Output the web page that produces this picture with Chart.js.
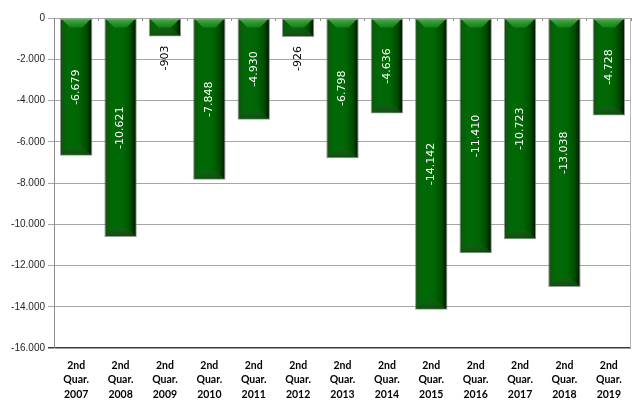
<!DOCTYPE html>
<html>
<head>
<meta charset="utf-8">
<script src="https://cdn.jsdelivr.net/npm/chart.js@4/dist/chart.umd.min.js"></script>
<style>
  html, body { margin: 0; padding: 0; background: #ffffff; }
  #wrap { width: 632px; height: 400px; }
</style>
</head>
<body>
<div id="wrap"><canvas id="c" width="632" height="400"></canvas></div>
<script>
// Quarterly results, second quarter of each year
const years = ['2007', '2008', '2009', '2010', '2011', '2012', '2013', '2014', '2015', '2016', '2017', '2018', '2019'];
const categoryLabels = years.map(y => ['2nd', 'Quar.', y]);
const values = [-6679, -10621, -903, -7848, -4930, -926, -6798, -4636, -14142, -11410, -10723, -13038, -4728];

// value axis range
const yMin = -16000;
const yMax = 0;
const yStep = 2000;

// labels for bars shorter than this go below the bar in black
const insideLimit = 2000;

const BAR_PCT = 0.73;

function fmt(v) {
  const s = Math.abs(Math.round(v)).toString().replace(/\B(?=(\d{3})+(?!\d))/g, '.');
  return (v < 0 ? '-' : '') + s;
}

// horizontal shading across each bar: lit left side, dark right side
function barFill(c) {
  const chart = c.chart;
  const xs = chart.scales.x;
  if (!chart.chartArea || !xs || c.dataIndex === undefined) return '#006400';
  const cx = xs.getPixelForValue(c.dataIndex);
  const step = xs.getPixelForValue(1) - xs.getPixelForValue(0);
  const w = step * BAR_PCT;
  const g = chart.ctx.createLinearGradient(cx - w / 2, 0, cx + w / 2, 0);
  g.addColorStop(0, '#124a12');
  g.addColorStop(0.08, '#0a5c0a');
  g.addColorStop(0.25, '#006a06');
  g.addColorStop(0.6, '#006604');
  g.addColorStop(0.82, '#004c00');
  g.addColorStop(0.94, '#002400');
  g.addColorStop(1, '#000800');
  return g;
}

// bevelled caps at both ends of each bar
const bevelPlugin = {
  id: 'bevel',
  afterDatasetsDraw(chart) {
    const ctx = chart.ctx;
    const meta = chart.getDatasetMeta(0);
    meta.data.forEach(bar => {
      const L = bar.x - bar.width / 2 + 1;
      const R = bar.x + bar.width / 2 - 1;
      const top = Math.min(bar.y, bar.base);
      const bot = Math.max(bar.y, bar.base);
      const b = Math.min(9, (bot - top) / 2);
      ctx.save();
      // top cap
      let g = ctx.createLinearGradient(0, top, 0, top + b);
      g.addColorStop(0, 'rgba(90,190,90,0.85)');
      g.addColorStop(1, 'rgba(40,150,40,0.55)');
      ctx.fillStyle = g;
      ctx.beginPath();
      ctx.moveTo(L, top);
      ctx.lineTo(R, top);
      ctx.lineTo(R - b, top + b);
      ctx.lineTo(L + b, top + b);
      ctx.closePath();
      ctx.fill();
      // bottom cap
      g = ctx.createLinearGradient(0, bot - b, 0, bot);
      g.addColorStop(0, 'rgba(30,90,30,0.55)');
      g.addColorStop(1, 'rgba(20,70,20,0.8)');
      ctx.fillStyle = g;
      ctx.beginPath();
      ctx.moveTo(L, bot - 1);
      ctx.lineTo(R, bot - 1);
      ctx.lineTo(R - b, bot - b);
      ctx.lineTo(L + b, bot - b);
      ctx.closePath();
      ctx.fill();
      ctx.restore();
    });
  }
};

// rotated value labels
const valueLabelPlugin = {
  id: 'valueLabels',
  afterDatasetsDraw(chart) {
    const ctx = chart.ctx;
    const meta = chart.getDatasetMeta(0);
    const data = chart.data.datasets[0].data;
    ctx.save();
    ctx.font = '11px "DejaVu Sans", sans-serif';
    ctx.textBaseline = 'middle';
    meta.data.forEach((bar, i) => {
      const v = data[i];
      const text = fmt(v);
      ctx.save();
      if (Math.abs(v) >= insideLimit) {
        ctx.translate(bar.x, (bar.y + bar.base) / 2);
        ctx.rotate(-Math.PI / 2);
        ctx.textAlign = 'center';
        ctx.fillStyle = '#ffffff';
      } else {
        ctx.translate(bar.x, bar.y + 9);
        ctx.rotate(-Math.PI / 2);
        ctx.textAlign = 'right';
        ctx.fillStyle = '#000000';
      }
      ctx.fillText(text, 0, 0);
      ctx.restore();
    });
    ctx.restore();
  }
};

// right edge of the plot frame
const framePlugin = {
  id: 'frame',
  beforeDatasetsDraw(chart) {
    const { ctx, chartArea } = chart;
    ctx.save();
    ctx.strokeStyle = '#b4b4b4';
    ctx.lineWidth = 1;
    ctx.beginPath();
    ctx.moveTo(Math.round(chartArea.right) - 0.5, chartArea.top);
    ctx.lineTo(Math.round(chartArea.right) - 0.5, chartArea.bottom);
    ctx.stroke();
    ctx.restore();
  }
};

new Chart(document.getElementById('c'), {
  type: 'bar',
  data: {
    labels: categoryLabels,
    datasets: [{
      data: values,
      backgroundColor: barFill,
      borderColor: 'rgba(120,120,120,0.75)',
      borderWidth: 1,
      borderSkipped: false,
      barPercentage: BAR_PCT,
      categoryPercentage: 1.0
    }]
  },
  options: {
    responsive: false,
    animation: false,
    devicePixelRatio: 1,
    layout: { padding: { left: 0, right: 1, top: 0, bottom: 0 } },
    plugins: {
      legend: { display: false },
      tooltip: { enabled: false }
    },
    scales: {
      x: {
        type: 'category',
        position: 'bottom',
        grid: { display: false, drawTicks: false },
        border: { display: false },
        ticks: {
          color: '#000000',
          padding: 10,
          maxRotation: 0,
          autoSkip: false,
          font: { family: '"Liberation Sans Narrow", Lato, sans-serif', size: 10.5, weight: 'bold', lineHeight: '14.5px' }
        },
        afterFit(s) { s.height = 52; }
      },
      x2: {
        type: 'category',
        position: 'top',
        offset: true,
        grid: { display: true, drawOnChartArea: false, offset: true, tickLength: -3, color: '#8c8c8c' },
        border: { display: false },
        ticks: { display: false },
        afterFit(s) { s.height = 18; }
      },
      y: {
        min: yMin,
        max: yMax,
        ticks: {
          stepSize: yStep,
          color: '#262626',
          padding: 3,
          font: { family: '"Liberation Sans", Arial, sans-serif', size: 10 },
          callback: v => fmt(v)
        },
        grid: {
          color: c => (c.tick && c.tick.value === yMin ? '#3c3c3c' : '#a6a6a6'),
          lineWidth: c => (c.tick && c.tick.value === yMin ? 1.5 : 1),
          tickLength: 6
        },
        border: { color: '#8c8c8c', width: 1 },
        afterFit(s) { s.width = 54; }
      }
    }
  },
  plugins: [framePlugin, bevelPlugin, valueLabelPlugin]
});
</script>
</body>
</html>
